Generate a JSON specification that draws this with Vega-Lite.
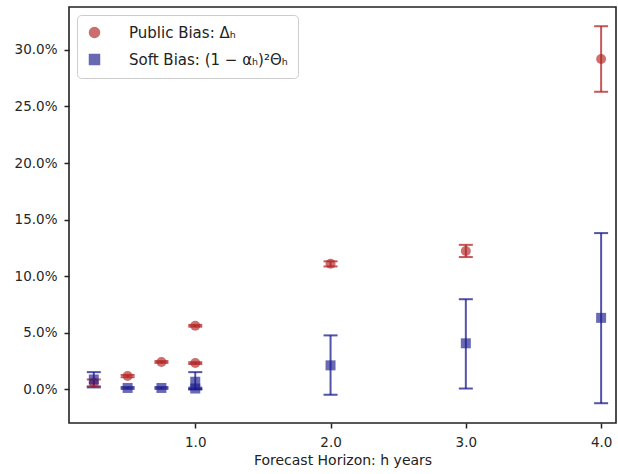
{
  "$schema": "https://vega.github.io/schema/vega-lite/v6.json",
  "autosize": {"type": "none"},
  "padding": {"left": 69, "top": 7, "right": 2, "bottom": 51},
  "width": 547,
  "height": 416,
  "config": {
    "font": "DejaVu Sans",
    "view": {"stroke": "#222", "strokeWidth": 1.6},
    "axis": {"grid": false, "domain": false, "tickColor": "#222", "tickSize": 5, "tickWidth": 1.5, "labelFontSize": 13.5, "labelColor": "#262626", "labelPadding": 7, "titleFontSize": 14, "titleFontWeight": "normal", "titleColor": "#222"}
  },
  "data": {
    "values": [
      {"h": 0.25, "series": "Public Bias: Δₕ", "value": 0.0055, "lo": 0.0025, "hi": 0.0085},
      {"h": 0.5, "series": "Public Bias: Δₕ", "value": 0.0115, "lo": 0.0105, "hi": 0.0125},
      {"h": 0.75, "series": "Public Bias: Δₕ", "value": 0.024, "lo": 0.0232, "hi": 0.0248},
      {"h": 1.0, "series": "Public Bias: Δₕ", "value": 0.056, "lo": 0.0552, "hi": 0.0568},
      {"h": 1.0, "series": "Public Bias: Δₕ", "value": 0.023, "lo": 0.0222, "hi": 0.0238},
      {"h": 2.0, "series": "Public Bias: Δₕ", "value": 0.1108, "lo": 0.1085, "hi": 0.113},
      {"h": 3.0, "series": "Public Bias: Δₕ", "value": 0.1222, "lo": 0.1168, "hi": 0.1276},
      {"h": 4.0, "series": "Public Bias: Δₕ", "value": 0.292, "lo": 0.263, "hi": 0.321},
      {"h": 0.25, "series": "Soft Bias: (1 − αₕ)²Θₕ", "value": 0.0085, "lo": 0.0015, "hi": 0.015},
      {"h": 0.5, "series": "Soft Bias: (1 − αₕ)²Θₕ", "value": 0.001, "lo": 0.0002, "hi": 0.0018},
      {"h": 0.75, "series": "Soft Bias: (1 − αₕ)²Θₕ", "value": 0.001, "lo": 0.0002, "hi": 0.0018},
      {"h": 1.0, "series": "Soft Bias: (1 − αₕ)²Θₕ", "value": 0.0065, "lo": 0.0, "hi": 0.015},
      {"h": 1.0, "series": "Soft Bias: (1 − αₕ)²Θₕ", "value": 0.0005, "lo": -0.0003, "hi": 0.0013},
      {"h": 2.0, "series": "Soft Bias: (1 − αₕ)²Θₕ", "value": 0.021, "lo": -0.005, "hi": 0.0475},
      {"h": 3.0, "series": "Soft Bias: (1 − αₕ)²Θₕ", "value": 0.0405, "lo": 0.0005, "hi": 0.0795},
      {"h": 4.0, "series": "Soft Bias: (1 − αₕ)²Θₕ", "value": 0.063, "lo": -0.0125, "hi": 0.138}
    ]
  },
  "encoding": {
    "x": {"field": "h", "type": "quantitative", "scale": {"domain": [0.0667, 4.11], "nice": false, "zero": false},
      "axis": {"values": [1, 2, 3, 4], "format": ".1f", "title": "Forecast Horizon: h years", "titlePadding": 5}},
    "color": {"field": "series", "type": "nominal",
      "scale": {"domain": ["Public Bias: Δₕ", "Soft Bias: (1 − αₕ)²Θₕ"], "range": ["#b22222", "#1a1a8c"]},
      "legend": {"title": null, "orient": "top-left", "offset": 8, "labelFontSize": 15, "labelColor": "#222",
        "symbolSize": 100, "symbolOpacity": 0.65, "strokeColor": "#ccc", "cornerRadius": 4, "padding": 10,
        "fillColor": "white", "rowPadding": 10, "labelOffset": 27, "labelLimit": 300}}
  },
  "layer": [
    {
      "mark": {"type": "rule", "strokeWidth": 2, "opacity": 0.75},
      "encoding": {
        "y": {"field": "lo", "type": "quantitative", "scale": {"domain": [-0.03, 0.338], "nice": false, "zero": false},
          "axis": {"values": [0, 0.05, 0.1, 0.15, 0.2, 0.25, 0.3], "format": ".1%", "title": null}},
        "y2": {"field": "hi"}
      }
    },
    {
      "mark": {"type": "tick", "orient": "horizontal", "size": 14, "thickness": 2, "opacity": 0.75},
      "encoding": {"y": {"field": "lo", "type": "quantitative"}}
    },
    {
      "mark": {"type": "tick", "orient": "horizontal", "size": 14, "thickness": 2, "opacity": 0.75},
      "encoding": {"y": {"field": "hi", "type": "quantitative"}}
    },
    {
      "mark": {"type": "point", "filled": true, "opacity": 0.65, "strokeWidth": 1},
      "encoding": {
        "y": {"field": "value", "type": "quantitative"},
        "shape": {"field": "series", "type": "nominal",
          "scale": {"domain": ["Public Bias: Δₕ", "Soft Bias: (1 − αₕ)²Θₕ"], "range": ["circle", "square"]},
          "legend": {"title": null, "orient": "top-left", "offset": 8, "labelFontSize": 15, "labelColor": "#222",
            "symbolSize": 100, "symbolOpacity": 0.65, "strokeColor": "#ccc", "cornerRadius": 4, "padding": 10,
            "fillColor": "white", "rowPadding": 10, "labelOffset": 27, "labelLimit": 300}},
        "size": {"value": 100}
      }
    }
  ]
}
